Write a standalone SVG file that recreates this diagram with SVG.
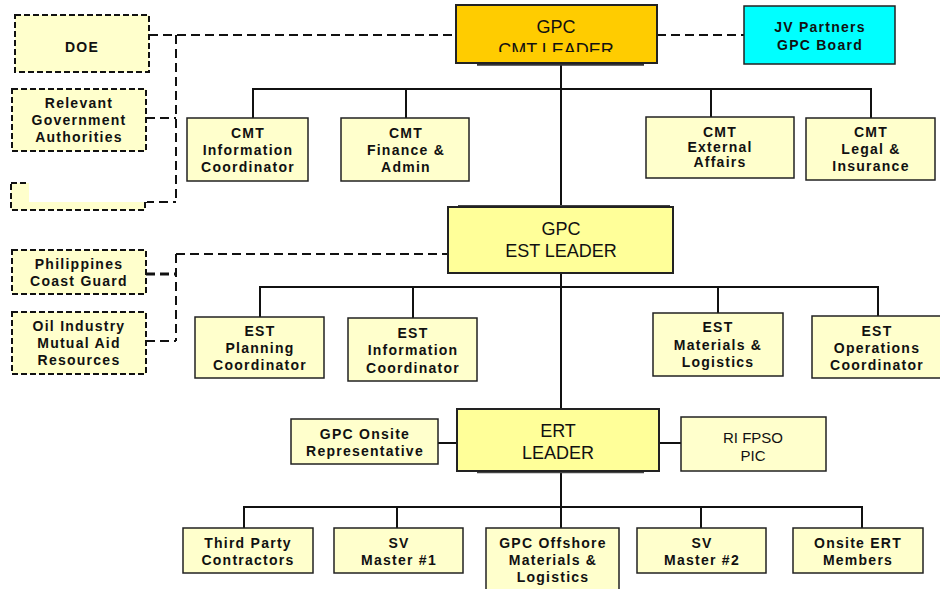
<svg xmlns="http://www.w3.org/2000/svg" width="940" height="589" viewBox="0 0 940 589">
<style>
.bx{stroke:#222;stroke-width:1.5}
.lt{fill:#FFFFCC}
.md{fill:#FFFF99}
.ds{stroke:#111;stroke-width:2;stroke-dasharray:6,3;fill:#FFFFCC}
.t{font-family:"Liberation Sans",Arial,sans-serif;font-weight:bold;font-size:14px;letter-spacing:1.25px;text-anchor:middle;fill:#111}
.big{font-family:"Liberation Sans",Arial,sans-serif;font-size:18px;text-anchor:middle;fill:#111}
.reg{font-family:"Liberation Sans",Arial,sans-serif;font-size:15px;text-anchor:middle;fill:#111}
.c{stroke:#111;stroke-width:2;fill:none}
.cd{stroke:#111;stroke-width:2;fill:none;stroke-dasharray:9,5}
</style>
<defs>
<clipPath id="cmtClip"><rect x="456" y="5" width="201" height="47"/></clipPath>
</defs>
<rect width="940" height="589" fill="#FFFFFF"/>

<g id="connectors">
<path class="cd" d="M149,35 H456"/>
<path class="cd" d="M176,35 V202"/>
<path class="cd" d="M146,118 H176"/>
<path class="cd" d="M145,202 H176"/>
<path class="cd" d="M657,35 H744"/>
<path class="cd" d="M176,254 H448"/>
<path class="cd" d="M176,254 V341"/>
<path class="cd" d="M146,274 H176" style="stroke-width:3"/>
<path class="cd" d="M146,341 H176"/>
<path class="c" d="M561,63 V207"/>
<path class="c" d="M253,118 V89 H871 V118"/>
<path class="c" d="M406,89 V118"/>
<path class="c" d="M711,89 V117"/>
<path class="c" d="M561,273 V409"/>
<path class="c" d="M260,317 V287 H878 V316"/>
<path class="c" d="M413,287 V318"/>
<path class="c" d="M718,287 V313"/>
<path class="c" d="M438,443 H457"/>
<path class="c" d="M659,443 H681"/>
<path class="c" d="M561,471 V528"/>
<path class="c" d="M244,528 V507 H862 V528"/>
<path class="c" d="M397,507 V528"/>
<path class="c" d="M701,507 V528"/>
</g>

<g id="doe">
<rect class="ds" x="15" y="15" width="134" height="57"/>
<text class="t" x="82" y="52">DOE</text>
</g>

<g id="relevant-gov">
<rect class="ds" x="12" y="89" width="134" height="62"/>
<text class="t" x="79" y="108">Relevant</text>
<text class="t" x="79" y="125">Government</text>
<text class="t" x="79" y="142">Authorities</text>
</g>

<g id="blank-box">
<rect class="ds" x="11" y="183" width="134" height="27"/>
<rect x="29" y="180" width="118" height="22" fill="#FFFFFF"/>
</g>

<g id="cmt-leader">
<line x1="477" y1="64.5" x2="644" y2="64.5" stroke="#333" stroke-width="2.5"/>
<rect class="bx" x="456" y="5" width="201" height="58" fill="#FFCC00" style="stroke-width:2"/>
<text class="big" x="556" y="33">GPC</text>
<text class="big" x="556" y="56" clip-path="url(#cmtClip)">CMT LEADER</text>
</g>

<g id="jv-partners">
<rect class="bx" x="744" y="6" width="151" height="58" fill="#00FFFF"/>
<text class="t" x="820" y="32">JV Partners</text>
<text class="t" x="820" y="50">GPC Board</text>
</g>

<g id="cmt-info">
<rect class="bx lt" x="187" y="118" width="121" height="63"/>
<text class="t" x="248" y="138">CMT</text>
<text class="t" x="248" y="155">Information</text>
<text class="t" x="248" y="172">Coordinator</text>
</g>

<g id="cmt-finance">
<rect class="bx lt" x="341" y="118" width="128" height="63"/>
<text class="t" x="406" y="138">CMT</text>
<text class="t" x="406" y="155">Finance &amp;</text>
<text class="t" x="406" y="172">Admin</text>
</g>

<g id="cmt-external">
<rect class="bx lt" x="646" y="117" width="148" height="61"/>
<text class="t" x="720" y="137">CMT</text>
<text class="t" x="720" y="152">External</text>
<text class="t" x="720" y="167">Affairs</text>
</g>

<g id="cmt-legal">
<rect class="bx lt" x="806" y="118" width="129" height="62"/>
<text class="t" x="871" y="137">CMT</text>
<text class="t" x="871" y="154">Legal &amp;</text>
<text class="t" x="871" y="171">Insurance</text>
</g>

<g id="est-leader">
<line x1="458" y1="205.5" x2="670" y2="205.5" stroke="#444" stroke-width="1"/>
<rect class="bx md" x="448" y="207" width="225" height="66" style="stroke-width:2"/>
<text class="big" x="561" y="235">GPC</text>
<text class="big" x="561" y="257">EST LEADER</text>
</g>

<g id="coast-guard">
<rect class="ds" x="12" y="250" width="134" height="44"/>
<text class="t" x="79" y="269">Philippines</text>
<text class="t" x="79" y="286">Coast Guard</text>
</g>

<g id="oil-industry">
<rect class="ds" x="12" y="312" width="134" height="62"/>
<text class="t" x="79" y="331">Oil Industry</text>
<text class="t" x="79" y="348">Mutual Aid</text>
<text class="t" x="79" y="365">Resources</text>
</g>

<g id="est-planning">
<rect class="bx lt" x="195" y="317" width="129" height="61"/>
<text class="t" x="260" y="336">EST</text>
<text class="t" x="260" y="353">Planning</text>
<text class="t" x="260" y="370">Coordinator</text>
</g>

<g id="est-info">
<rect class="bx lt" x="348" y="318" width="129" height="63"/>
<text class="t" x="413" y="338">EST</text>
<text class="t" x="413" y="355">Information</text>
<text class="t" x="413" y="373">Coordinator</text>
</g>

<g id="est-materials">
<rect class="bx lt" x="653" y="313" width="130" height="63"/>
<text class="t" x="718" y="332">EST</text>
<text class="t" x="718" y="350">Materials &amp;</text>
<text class="t" x="718" y="367">Logistics</text>
</g>

<g id="est-operations">
<rect class="bx lt" x="812" y="316" width="130" height="62"/>
<text class="t" x="877" y="336">EST</text>
<text class="t" x="877" y="353">Operations</text>
<text class="t" x="877" y="370">Coordinator</text>
</g>

<g id="ert-leader">
<line x1="477" y1="472.5" x2="644" y2="472.5" stroke="#444" stroke-width="1.5"/>
<rect class="bx md" x="457" y="409" width="202" height="62" style="stroke-width:2"/>
<text class="big" x="558" y="437">ERT</text>
<text class="big" x="558" y="459">LEADER</text>
</g>

<g id="gpc-onsite">
<rect class="bx lt" x="291" y="419" width="147" height="45"/>
<text class="t" x="365" y="439">GPC Onsite</text>
<text class="t" x="365" y="456">Representative</text>
</g>

<g id="ri-fpso">
<rect class="bx lt" x="681" y="417" width="145" height="54"/>
<text class="reg" x="753" y="443">RI FPSO</text>
<text class="reg" x="753" y="461">PIC</text>
</g>

<g id="third-party">
<rect class="bx lt" x="183" y="528" width="130" height="45"/>
<text class="t" x="248" y="548">Third Party</text>
<text class="t" x="248" y="565">Contractors</text>
</g>

<g id="sv-master-1">
<rect class="bx lt" x="334" y="528" width="129" height="45"/>
<text class="t" x="399" y="548">SV</text>
<text class="t" x="399" y="565">Master #1</text>
</g>

<g id="gpc-offshore">
<rect class="bx lt" x="486" y="528" width="133" height="70"/>
<text class="t" x="553" y="548">GPC Offshore</text>
<text class="t" x="553" y="565">Materials &amp;</text>
<text class="t" x="553" y="582">Logistics</text>
</g>

<g id="sv-master-2">
<rect class="bx lt" x="637" y="528" width="129" height="45"/>
<text class="t" x="702" y="548">SV</text>
<text class="t" x="702" y="565">Master #2</text>
</g>

<g id="onsite-ert">
<rect class="bx lt" x="793" y="528" width="130" height="45"/>
<text class="t" x="858" y="548">Onsite ERT</text>
<text class="t" x="858" y="565">Members</text>
</g>
</svg>
